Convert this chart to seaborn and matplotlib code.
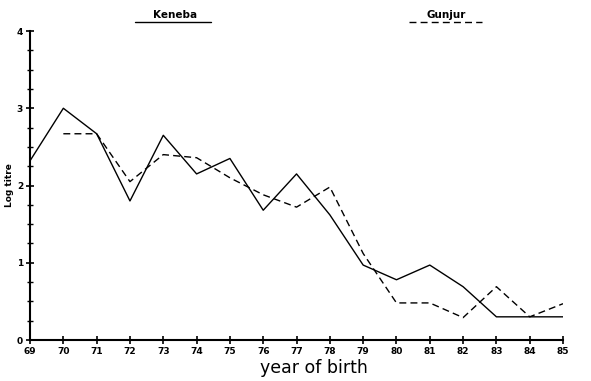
import pandas as pd
import seaborn as sns
import matplotlib.pyplot as plt
from matplotlib.lines import Line2D
from matplotlib.ticker import MultipleLocator

# --- data ---
years_keneba = list(range(69, 86))
keneba = [2.32, 3.00, 2.67, 1.80, 2.65, 2.15, 2.35, 1.68, 2.15, 1.62,
          0.97, 0.78, 0.97, 0.69, 0.30, 0.30, 0.30]

years_gunjur = list(range(70, 86))
gunjur = [2.67, 2.67, 2.05, 2.40, 2.36, 2.10, 1.88, 1.72, 1.98,
          1.12, 0.48, 0.48, 0.29, 0.69, 0.30, 0.47]

df = pd.concat([
    pd.DataFrame({"year": years_keneba, "titre": keneba, "site": "Keneba"}),
    pd.DataFrame({"year": years_gunjur, "titre": gunjur, "site": "Gunjur"}),
])

sns.set_style("ticks", {"axes.edgecolor": "black", "text.color": "black",
                        "axes.labelcolor": "black", "xtick.color": "black",
                        "ytick.color": "black"})
plt.rcParams["font.family"] = ["DejaVu Sans"]

fig = plt.figure(figsize=(5.91, 3.81), dpi=100)
ax = fig.add_axes([0.0508, 0.1076, 0.9019, 0.811])

sns.lineplot(
    data=df, x="year", y="titre", style="site",
    dashes={"Keneba": "", "Gunjur": (5, 3)},
    color="black", linewidth=1.0, legend=False, ax=ax,
)

ax.set_xlim(69, 85)
ax.set_ylim(0, 4)
ax.set_xticks(range(69, 86))
ax.set_yticks(range(0, 5))
ax.yaxis.set_minor_locator(MultipleLocator(0.25))
ax.tick_params(axis="both", which="major", direction="inout", length=6,
               width=1.2, labelsize=6.5, pad=2, colors="black")
ax.tick_params(axis="y", which="minor", direction="inout", length=4,
               width=1.0, colors="black")
for lbl in ax.get_xticklabels() + ax.get_yticklabels():
    lbl.set_fontweight("bold")

sns.despine(ax=ax)
ax.spines["left"].set_linewidth(1.5)
ax.spines["bottom"].set_linewidth(1.5)

ax.set_xlabel("year of birth", fontsize=12.5, color="black")
ax.xaxis.set_label_coords(0.533, -0.06)
ax.set_ylabel("Log titre", fontsize=6.5, fontweight="bold", labelpad=2,
              color="black")

# legend labels above the plot, line sample under each name
fig.text(175 / 591, 1 - 15 / 381, "Keneba", ha="center", va="center",
         fontsize=7.5, fontweight="bold", color="black")
fig.add_artist(Line2D([135 / 591, 211 / 591], [1 - 22 / 381] * 2,
                      color="black", linewidth=1.0))
fig.text(446 / 591, 1 - 15 / 381, "Gunjur", ha="center", va="center",
         fontsize=7.5, fontweight="bold", color="black")
fig.add_artist(Line2D([409 / 591, 482 / 591], [1 - 22 / 381] * 2,
                      color="black", linewidth=1.0, dashes=(5, 3)))

fig.savefig("out.png", dpi=100)
